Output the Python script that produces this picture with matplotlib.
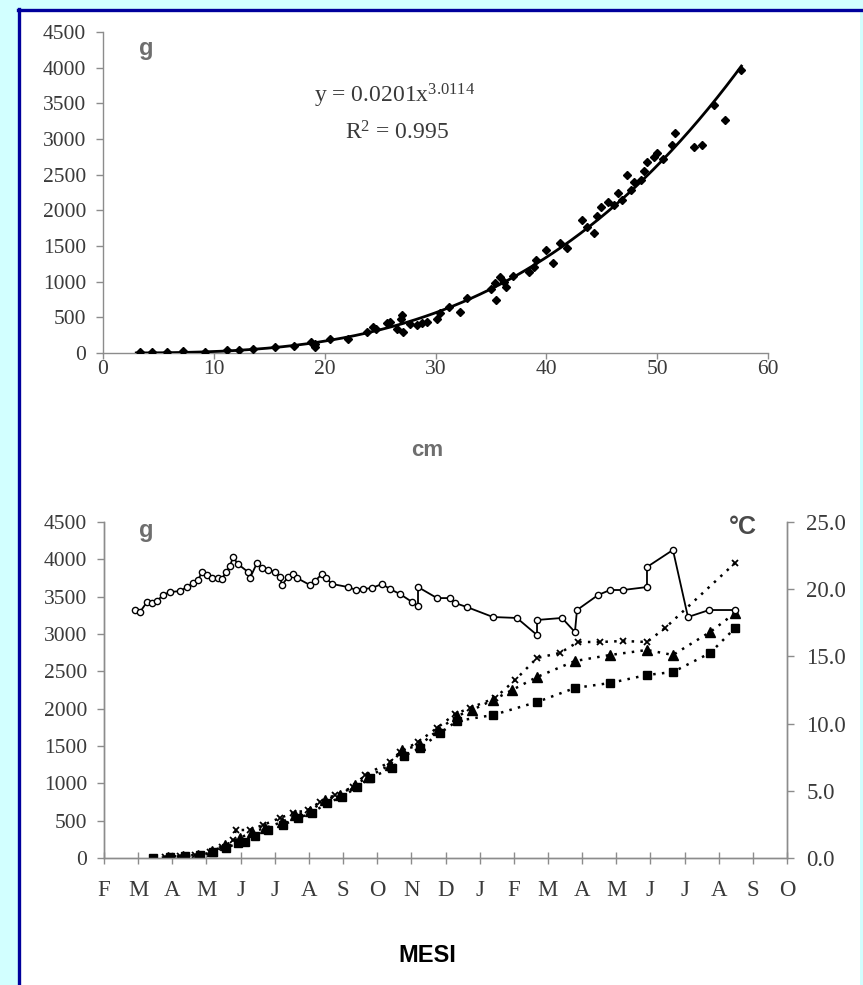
import numpy as np
import matplotlib
matplotlib.use("Agg")
import matplotlib.pyplot as plt
from matplotlib.patches import Rectangle
from matplotlib.lines import Line2D

plt.rcParams['mathtext.fontset'] = 'custom'
plt.rcParams['mathtext.rm'] = 'Liberation Serif'
plt.rcParams['mathtext.it'] = 'Liberation Serif:italic'

# ---------------- data: length-weight ----------------
length_cm = [3.3, 4.4, 5.8, 7.2, 9.2, 11.2, 12.3, 13.5, 15.5, 17.2, 19.1, 19.1, 18.8, 20.5, 22.1,
             23.8, 24.4, 24.6, 25.6, 25.9, 26.5, 26.9, 27.0, 27.1, 27.7, 28.3, 28.8, 29.2, 30.1,
             30.4, 31.2, 32.2, 32.8, 35.0, 35.5, 35.4, 35.8, 36.2, 36.4, 37.0, 38.4, 38.9, 39.1,
             40.0, 40.6, 41.2, 41.9, 43.2, 43.7, 44.3, 44.6, 44.9, 45.6, 46.1, 46.5, 46.8, 47.3,
             47.6, 47.9, 48.5, 48.8, 49.1, 49.7, 50.0, 50.5, 51.3, 51.6, 53.3, 54.0, 55.1, 56.1, 57.6]
weight_g = [10, 15, 20, 30, 20, 40, 45, 60, 80, 100, 130, 85, 160, 190, 190,
            300, 370, 330, 415, 440, 330, 470, 530, 300, 405, 390, 420, 440, 470,
            555, 650, 580, 765, 900, 740, 975, 1070, 1000, 930, 1080, 1140, 1200, 1300,
            1445, 1260, 1540, 1470, 1865, 1770, 1680, 1920, 2050, 2120, 2075, 2240, 2150, 2495,
            2285, 2400, 2425, 2550, 2680, 2750, 2800, 2720, 2915, 3080, 2890, 2915, 3475, 3265, 3970]
fit_a = 0.0201
fit_b = 3.0114
fit_r2 = 0.995
fit_xrange = [3.0, 57.6]

# ---------------- data: monthly series ----------------
month_labels = ['F', 'M', 'A', 'M', 'J', 'J', 'A', 'S', 'O', 'N', 'D',
                'J', 'F', 'M', 'A', 'M', 'J', 'J', 'A', 'S', 'O']

temp_x = [0.908, 1.054, 1.259, 1.406, 1.552, 1.728, 1.933, 2.225, 2.430, 2.606, 2.753, 2.870,
          3.016, 3.163, 3.338, 3.455, 3.572, 3.690, 3.777, 3.924, 4.217, 4.275, 4.480, 4.627,
          4.802, 5.007, 5.154, 5.212, 5.388, 5.534, 5.652, 6.032, 6.179, 6.384, 6.501, 6.677,
          7.145, 7.379, 7.584, 7.848, 8.141, 8.375, 8.668, 9.019, 9.195, 9.195, 9.751, 10.13,
          10.28, 10.63, 11.39, 12.09, 12.68, 12.68, 13.41, 13.79, 13.85, 14.47, 14.82, 15.20,
          15.90, 15.90, 16.66, 17.10, 17.72, 18.48]
temp_c = [18.45, 18.30, 19.05, 18.97, 19.12, 19.57, 19.79, 19.86, 20.16, 20.46, 20.68, 21.28,
          21.06, 20.83, 20.83, 20.76, 21.28, 21.72, 22.39, 21.87, 21.28, 20.83, 21.95, 21.58,
          21.43, 21.28, 20.91, 20.31, 20.91, 21.13, 20.83, 20.31, 20.61, 21.13, 20.83, 20.39,
          20.16, 19.94, 20.01, 20.09, 20.39, 20.01, 19.64, 19.05, 18.75, 20.16, 19.34, 19.34,
          18.97, 18.67, 17.93, 17.86, 16.59, 17.71, 17.86, 16.81, 18.45, 19.57, 19.94, 19.94,
          20.16, 21.65, 22.92, 17.93, 18.45, 18.45]

cross_x = [1.786, 2.225, 2.665, 3.104, 3.455, 3.777, 3.865, 4.275, 4.656, 5.154, 5.534, 5.974,
           6.325, 6.764, 7.291, 7.643, 8.375, 8.668, 9.195, 9.751, 10.28, 10.72, 11.45, 12.04,
           12.68, 13.35, 13.88, 14.52, 15.20, 15.90, 16.43, 18.48]
cross_g = [13, 27, 40, 80, 147, 241, 375, 375, 442, 536, 603, 643,
           750, 844, 951, 1112, 1286, 1420, 1554, 1741, 1929, 2009, 2143, 2384,
           2679, 2746, 2893, 2893, 2906, 2893, 3080, 3951]

tri_x = [1.874, 2.313, 2.753, 3.163, 3.543, 3.982, 4.334, 4.714, 5.212, 5.593, 6.032, 6.472,
         6.911, 7.350, 7.731, 8.375, 8.726, 9.253, 9.780, 10.34, 10.78, 11.39, 11.95, 12.68,
         13.79, 14.82, 15.90, 16.66, 17.75, 18.48]
tri_g = [13, 27, 40, 94, 174, 268, 348, 402, 482, 576, 629, 777,
         844, 978, 1085, 1246, 1446, 1513, 1714, 1902, 1982, 2116, 2250, 2424,
         2638, 2719, 2786, 2719, 3027, 3281]

sq_x = [1.435, 1.933, 2.372, 2.811, 3.192, 3.572, 3.924, 4.129, 4.422, 4.802, 5.242, 5.681,
        6.091, 6.530, 6.969, 7.408, 7.789, 8.433, 8.785, 9.253, 9.839, 10.34, 11.39, 12.68,
        13.79, 14.82, 15.90, 16.66, 17.75, 18.48]
sq_g = [0, 13, 27, 40, 80, 134, 201, 214, 295, 375, 442, 536,
        603, 737, 817, 951, 1071, 1205, 1366, 1473, 1674, 1835, 1915, 2089,
        2277, 2344, 2451, 2491, 2746, 3080]

# ---------------- figure ----------------
W, H = 863, 985
fig = plt.figure(figsize=(W / 100, H / 100), dpi=100)
fig.patch.set_facecolor('#d2ffff')

def fx(px):
    return px / W

def fy(py):
    return 1 - py / H

fig.add_artist(Rectangle((fx(20), 0), fx(860) - fx(20), fy(10), transform=fig.transFigure,
                         facecolor='white', edgecolor='none', zorder=0))
fig.add_artist(Line2D([fx(19), fx(19)], [0, fy(8.5)], transform=fig.transFigure,
                      color='#00009c', lw=2.4, zorder=1))
fig.add_artist(Line2D([fx(18), fx(863)], [fy(9.5), fy(9.5)], transform=fig.transFigure,
                      color='#00009c', lw=2.4, zorder=1))

tick_col = '#8c8c8c'
lab_col = '#3a3a3a'
serif = 'Liberation Serif'

def style_axis(ax):
    ax.set_facecolor('none')
    for s in ax.spines.values():
        s.set_color(tick_col)
        s.set_linewidth(1.0)
    ax.tick_params(colors=tick_col, labelcolor=lab_col, width=1.0, length=5)
    for lab in ax.get_xticklabels() + ax.get_yticklabels():
        lab.set_fontfamily(serif)

# ---- top chart ----
ax1 = fig.add_axes([fx(103), fy(353), fx(768) - fx(103), fy(32) - fy(353)])
ax1.set_xlim(0, 60)
ax1.set_ylim(0, 4500)
ax1.spines['top'].set_visible(False)
ax1.spines['right'].set_visible(False)
ax1.set_xticks(np.arange(0, 61, 10))
ax1.set_yticks(np.arange(0, 4501, 500))
style_axis(ax1)
ax1.tick_params(axis='both', labelsize=15.5)
ax1.tick_params(axis='x', pad=1, length=4)
ax1.tick_params(axis='y', pad=7)

xf = np.linspace(fit_xrange[0], fit_xrange[1], 200)
ax1.plot(xf, fit_a * xf ** fit_b, color='black', lw=2.0, zorder=3)
ax1.plot(length_cm, weight_g, linestyle='none', marker='D', ms=3.8, color='black', zorder=4)

fig.text(fx(395), fy(96), 'y = 0.0201x$^{3.0114}$', ha='center', va='center',
         fontsize=17, family=serif, color=lab_col)
fig.text(fx(397), fy(133), 'R$^{2}$ = %.3f' % fit_r2, ha='center', va='center',
         fontsize=17, family=serif, color=lab_col)
fig.text(fx(146), fy(48), 'g', ha='center', va='center', fontsize=17, fontweight='bold',
         family='Liberation Sans', color='#6e6e6e')
fig.text(fx(427), fy(451), 'cm', ha='center', va='center', fontsize=16, fontweight='bold',
         family='Liberation Sans', color='#6e6e6e')

# ---- bottom chart ----
ax2 = fig.add_axes([fx(104), fy(858), fx(787) - fx(104), fy(522) - fy(858)])
ax2.set_xlim(0, 20)
ax2.set_ylim(0, 4500)
ax2.spines['top'].set_visible(False)
ax2.set_yticks(np.arange(0, 4501, 500))
ax2.set_xticks(np.arange(0, 21, 1))
ax2.set_xticklabels(month_labels)
style_axis(ax2)
ax2.tick_params(axis='y', labelsize=15.5, pad=7)
ax2.tick_params(axis='x', labelsize=16.5, pad=11, direction='inout', length=9)

ax2r = ax2.twinx()
ax2r.set_ylim(0, 25)
ax2r.set_yticks(np.arange(0, 25.1, 5))
ax2r.set_yticklabels(['%.1f' % v for v in np.arange(0, 25.1, 5)])
ax2r.spines['top'].set_visible(False)
style_axis(ax2r)
ax2r.tick_params(axis='y', labelsize=16.5, pad=9)

ax2.plot(cross_x, cross_g, linestyle=(0, (1, 2.5)), lw=1.8, color='black', marker='x', ms=5,
         mew=1.3, zorder=3)
ax2.plot(tri_x, tri_g, linestyle=(0, (1, 2.5)), lw=1.8, color='black', marker='^', ms=6.5, zorder=3)
ax2.plot(sq_x, sq_g, linestyle=(0, (1, 2.5)), lw=1.8, color='black', marker='s', ms=6, zorder=3)
ax2r.plot(temp_x, temp_c, linestyle='-', lw=1.3, color='black', marker='o', ms=4.5,
          mfc='white', mec='black', mew=1.0, zorder=4)

fig.text(fx(146), fy(530), 'g', ha='center', va='center', fontsize=17, fontweight='bold',
         family='Liberation Sans', color='#6e6e6e')
fig.text(fx(743), fy(527), '°C', ha='center', va='center', fontsize=18, fontweight='bold',
         family='Liberation Sans', color='#4a4a4a')
fig.text(fx(427), fy(955), 'MESI', ha='center', va='center', fontsize=17, fontweight='bold',
         family='Liberation Sans', color='black')

fig.savefig('out.png', dpi=100, facecolor=fig.get_facecolor())
